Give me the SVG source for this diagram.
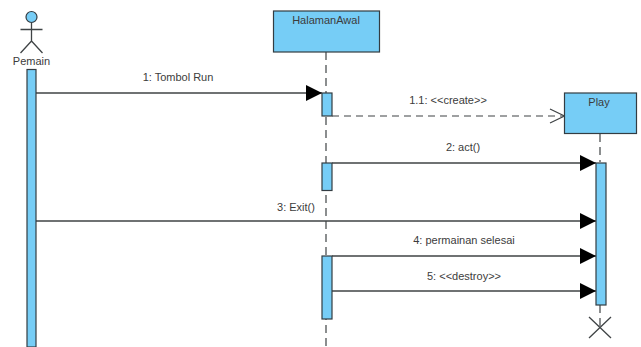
<svg xmlns="http://www.w3.org/2000/svg" width="641" height="347" viewBox="0 0 641 347">
<style>
.box{fill:#76cdf6;stroke:#333c42;stroke-width:1.2}
.ln{fill:none;stroke:#3f4345;stroke-width:1.3}
.life{fill:none;stroke:#3f4345;stroke-width:1.2;stroke-dasharray:8 5}
.dash{fill:none;stroke:#3f4345;stroke-width:1.2;stroke-dasharray:7 5}
text{font-family:"Liberation Sans",Arial,sans-serif;font-size:11px;fill:#3c3c3c;text-anchor:middle}
</style>
<defs>
<marker id="solid" markerUnits="userSpaceOnUse" markerWidth="17" markerHeight="16" refX="16" refY="8" orient="auto"><path d="M0 0L16 8L0 16Z" fill="#000"/></marker>
<marker id="open" markerUnits="userSpaceOnUse" markerWidth="17" markerHeight="16" refX="16" refY="8" orient="auto"><path d="M1 1L15.500 8L1 15" fill="none" stroke="#3f4345" stroke-width="1.200"/></marker>
</defs>
<rect width="641" height="347" fill="#fff"/>
<g id="lifelines">
<path class="life" d="M326 52V347"/>
<path class="life" d="M600 134V162M600 305V330"/>
</g>
<g id="connectors">
<path class="ln" d="M36 93H322" marker-end="url(#solid)"/>
<path class="dash" d="M332 116H565" marker-end="url(#open)"/>
<path class="ln" d="M332 163H596" marker-end="url(#solid)"/>
<path class="ln" d="M36 221H596" marker-end="url(#solid)"/>
<path class="ln" d="M332 256H596" marker-end="url(#solid)"/>
<path class="ln" d="M332 291H596" marker-end="url(#solid)"/>
</g>
<g id="pemain">
<circle class="box" cx="31.500" cy="17" r="5.500"/>
<path class="ln" d="M31.500 22.500V41M20.500 29.500H42.500M20.500 53L31.500 41L42.500 53"/>
<text x="31.500" y="65">Pemain</text>
<rect class="box" x="27" y="69.500" width="9" height="277.500"/>
</g>
<g id="halamanawal">
<rect class="box" x="273.500" y="11" width="106" height="41"/>
<text x="326" y="24">HalamanAwal</text>
<rect class="box" x="322" y="93" width="10" height="23"/>
<rect class="box" x="322" y="163" width="10" height="27.500"/>
<rect class="box" x="322" y="256" width="10" height="63"/>
</g>
<g id="play">
<rect class="box" x="564.500" y="93" width="72" height="40.500"/>
<text x="599" y="106">Play</text>
<rect class="box" x="596" y="163" width="10" height="142"/>
<path class="ln" d="M589 317L611 338M611 317L589 338"/>
</g>
<g id="labels">
<text x="178" y="81">1: Tombol Run</text>
<text x="448" y="104">1.1: &lt;&lt;create&gt;&gt;</text>
<text x="463" y="151">2: act()</text>
<text x="296" y="211">3: Exit()</text>
<text x="464" y="244">4: permainan selesai</text>
<text x="464" y="280">5: &lt;&lt;destroy&gt;&gt;</text>
</g>
</svg>
